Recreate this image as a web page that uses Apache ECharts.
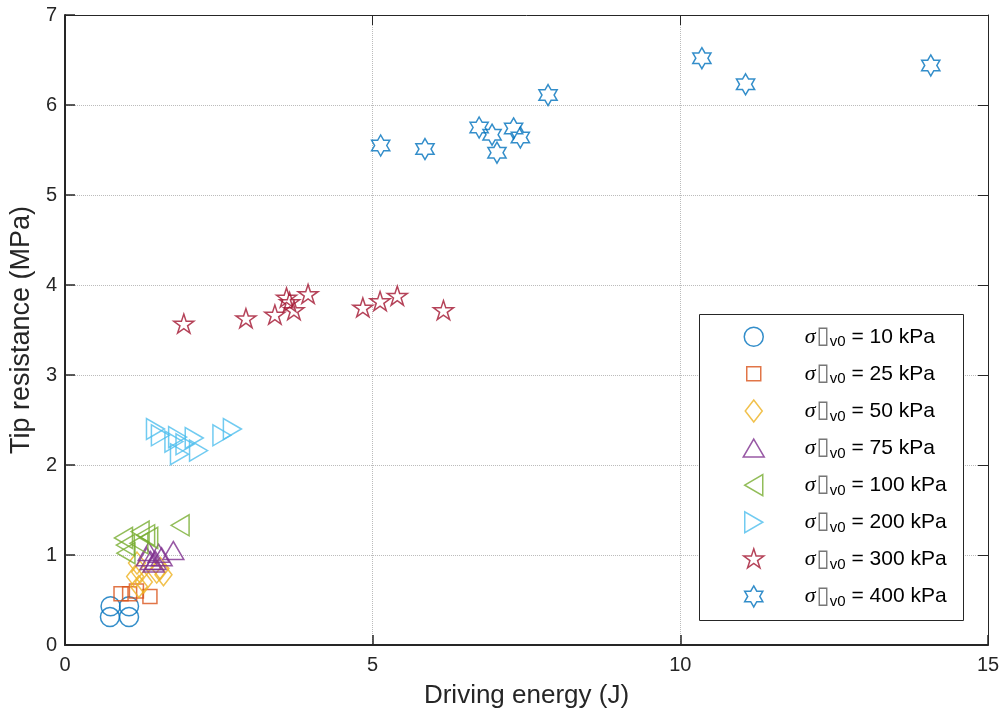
<!DOCTYPE html>
<html>
<head>
<meta charset="utf-8">
<script src="https://cdn.jsdelivr.net/npm/echarts@6/dist/echarts.min.js"></script>
<style>html,body{margin:0;padding:0;background:#fff}#c{width:1006px;height:719px}</style>
</head>
<body>
<div id="c"></div>
<script>
// ---- data (Driving energy J, Tip resistance MPa) ----
const s10  = [[0.74,0.43],[1.04,0.43],[0.73,0.31],[1.04,0.31]];
const s25  = [[0.91,0.57],[1.05,0.57],[1.16,0.60],[1.38,0.54]];
const s50  = [[1.17,0.91],[1.22,0.81],[1.14,0.76],[1.20,0.65],[1.28,0.70],[1.55,0.85],[1.60,0.78],[1.49,0.81]];
const s75  = [[1.36,1.04],[1.52,1.02],[1.76,1.05],[1.39,0.94],[1.47,0.94],[1.44,0.91],[1.57,0.98],[1.33,0.98]];
const s100 = [[1.87,1.33],[0.95,1.19],[0.98,1.11],[0.99,1.02],[1.22,1.26],[1.31,1.22],[1.36,1.19],[1.20,1.13]];
const s200 = [[1.47,2.40],[1.55,2.33],[1.83,2.31],[1.86,2.12],[1.95,2.23],[2.10,2.30],[2.17,2.16],[2.55,2.33],[2.72,2.40],[1.77,2.26]];
const s300 = [[1.93,3.56],[2.94,3.62],[3.41,3.66],[3.60,3.85],[3.65,3.80],[3.72,3.71],[3.95,3.89],[4.84,3.74],[5.12,3.81],[5.40,3.87],[6.15,3.71]];
const s400 = [[5.13,5.55],[5.85,5.51],[6.73,5.75],[6.94,5.67],[7.02,5.47],[7.29,5.74],[7.40,5.64],[7.85,6.11],[10.35,6.52],[11.06,6.23],[14.07,6.44]];
const stressLabels = ['10 kPa','25 kPa','50 kPa','75 kPa','100 kPa','200 kPa','300 kPa','400 kPa'];
const xTicks = [0, 5, 10, 15];
const yTicks = [0, 1, 2, 3, 4, 5, 6, 7];

const seriesData = [s10, s25, s50, s75, s100, s200, s300, s400];
const colors = ['#0072BD','#D95319','#EDB120','#7E2F8E','#77AC30','#4DBEEE','#A2142F','#0072BD'];
const A = 'M0,0M26,26';
const symbols = [
  'path://' + A + 'M3.5,13A9.5,9.5,0,1,1,22.5,13A9.5,9.5,0,1,1,3.5,13Z',
  'path://' + A + 'M6,6L20,6L20,20L6,20Z',
  'path://' + A + 'M13,2L21.5,13L13,24L4.5,13Z',
  'path://' + A + 'M13,4L23.5,22L2.5,22Z',
  'path://' + A + 'M4,13L22,2.5L22,23.5Z',
  'path://' + A + 'M22,13L4,2.5L4,23.5Z',
  'path://' + A + 'M13,2.5L15.36,9.76L22.99,9.76L16.81,14.24L19.17,21.5L13,17.01L6.83,21.5L9.19,14.24L3.01,9.76L10.64,9.76Z',
  'path://' + A + 'M13,2.5L16.03,7.75L22.09,7.75L19.06,13L22.09,18.25L16.03,18.25L13,23.5L9.97,18.25L3.91,18.25L6.94,13L3.91,7.75L9.97,7.75Z'
];

const FONT = '"Liberation Sans", Arial, Helvetica, sans-serif';
const TXT = '#262626';

const chart = echarts.init(document.getElementById('c'), null, {renderer: 'canvas'});

const series = seriesData.map((d, i) => ({
  name: stressLabels[i],
  type: 'scatter',
  data: d,
  symbol: symbols[i],
  symbolSize: 26,
  itemStyle: {color: 'rgba(255,255,255,0)', borderColor: colors[i], borderWidth: 1.5},
  emphasis: {disabled: true},
  z: 2
}));

const axisCommon = (min, max, interval) => ({
  type: 'value', min: min, max: max, interval: interval
});

chart.setOption({
  animation: false,
  backgroundColor: '#fff',
  grid: {left: 61, right: 18, top: 15, bottom: 74, containLabel: false},
  xAxis: [
    Object.assign(axisCommon(xTicks[0], xTicks[xTicks.length-1], xTicks[1]-xTicks[0]), {
      position: 'bottom',
      name: 'Driving energy (J)', nameLocation: 'middle', nameGap: 38,
      nameTextStyle: {fontSize: 26, color: TXT, fontFamily: FONT},
      axisLine: {show: true, onZero: false, lineStyle: {color: TXT, width: 2}},
      axisTick: {show: true, inside: true, length: 10, lineStyle: {color: TXT, width: 1.5}},
      axisLabel: {fontSize: 20, color: TXT, fontFamily: FONT, margin: 10},
      splitLine: {show: true, lineStyle: {type: 'dotted', color: '#bbbbbb', width: 1}}
    }),
    Object.assign(axisCommon(xTicks[0], xTicks[xTicks.length-1], xTicks[1]-xTicks[0]), {
      position: 'top',
      axisLine: {show: true, onZero: false, lineStyle: {color: TXT, width: 1}},
      axisTick: {show: true, inside: true, length: 10, lineStyle: {color: TXT, width: 1}},
      axisLabel: {show: false}, splitLine: {show: false}
    })
  ],
  yAxis: [
    Object.assign(axisCommon(yTicks[0], yTicks[yTicks.length-1], yTicks[1]-yTicks[0]), {
      position: 'left',
      name: 'Tip resistance (MPa)', nameLocation: 'middle', nameGap: 20,
      nameTextStyle: {fontSize: 27, color: TXT, fontFamily: FONT},
      axisLine: {show: true, onZero: false, lineStyle: {color: TXT, width: 2}},
      axisTick: {show: true, inside: true, length: 10, lineStyle: {color: TXT, width: 1.5}},
      axisLabel: {fontSize: 20, color: TXT, fontFamily: FONT, margin: 8},
      splitLine: {show: true, lineStyle: {type: 'dotted', color: '#bbbbbb', width: 1}}
    }),
    Object.assign(axisCommon(yTicks[0], yTicks[yTicks.length-1], yTicks[1]-yTicks[0]), {
      position: 'right',
      axisLine: {show: true, onZero: false, lineStyle: {color: TXT, width: 1}},
      axisTick: {show: true, inside: true, length: 10, lineStyle: {color: TXT, width: 1}},
      axisLabel: {show: false}, splitLine: {show: false}
    })
  ],
  graphic: [{
    type: 'rect', z: 3, silent: true,
    shape: {x: 699.5, y: 314.5, width: 264, height: 306},
    style: {fill: '#fff', stroke: TXT, lineWidth: 1}
  }],
  legend: {
    orient: 'vertical', left: 740, top: 323, padding: 0,
    itemWidth: 26, itemHeight: 26, itemGap: 9.6,
    selectedMode: false, z: 5,
    itemStyle: {borderWidth: 1.5},
    data: stressLabels,
    formatter: function (name) {
      return '{p| }{s|σ}{b|▯}{sub|v0}{t| = ' + name + '}';
    },
    textStyle: {
      color: '#000', fontFamily: FONT, fontSize: 21,
      rich: {
        p: {width: 33, fontSize: 20, lineHeight: 26},
        s: {fontFamily: '"Liberation Serif", "Times New Roman", serif', fontStyle: 'italic', fontSize: 22, color: '#000', lineHeight: 26},
        b: {fontFamily: '"DejaVu Sans", sans-serif', fontSize: 24, color: '#777', lineHeight: 26, padding: [0, 0, 0, 1]},
        sub: {fontFamily: FONT, fontSize: 15, color: '#000', lineHeight: 7, verticalAlign: 'bottom'},
        t: {fontFamily: FONT, fontSize: 21, color: '#000', lineHeight: 26}
      }
    }
  },
  series: series
});
</script>
</body>
</html>
